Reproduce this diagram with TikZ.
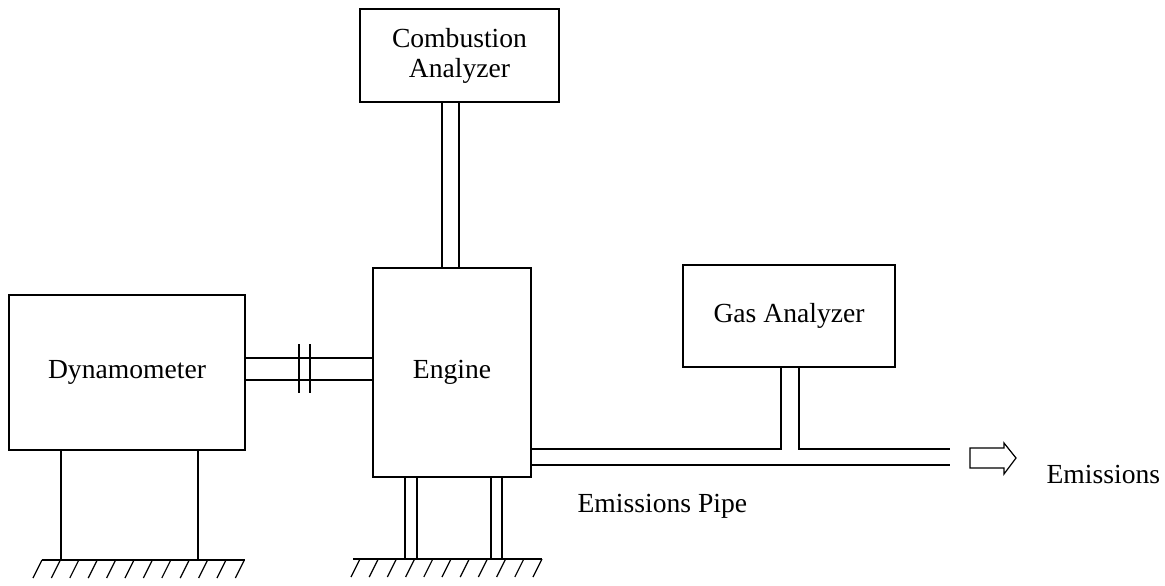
\documentclass[tikz,border=0pt]{standalone}
\usepackage{fontspec}
\setmainfont{Liberation Serif}
\begin{document}
\begin{tikzpicture}[x=0.5pt,y=-0.5pt, line width=0.6pt,
  box/.style={draw, rectangle, inner sep=0pt, font=\fontsize{13.8}{15}\selectfont, align=center},
  lbl/.style={font=\fontsize{13.8}{15}\selectfont, inner sep=0pt, anchor=base west}]
\useasboundingbox (0,0) rectangle (1165,585);
% boxes
\node[box, minimum width=118pt, minimum height=77.5pt] (dyn) at (127,372.5) {\raisebox{-1pt}{Dynamometer}};
\node[box, minimum width=79pt, minimum height=104.5pt] (eng) at (452,372.5) {Engine};
\node[box, minimum width=99.5pt, minimum height=46.5pt] (comb) at (459.5,55.5) {Combustion\\Analyzer};
\node[box, minimum width=106pt, minimum height=51pt] (gas) at (789,316) {\raisebox{2pt}{Gas Analyzer}};
% labels
\node[lbl] (pipelbl) at (577,512) {Emissions Pipe};
\node[lbl] (emlbl) at (1046,483) {Emissions};
% combustion analyzer pipe
\draw (comb.south -| 442,0) -- (eng.north -| 442,0);
\draw (comb.south -| 459,0) -- (eng.north -| 459,0);
% shaft with coupling
\draw (dyn.east |- 0,358) -- (eng.west |- 0,358);
\draw (dyn.east |- 0,380) -- (eng.west |- 0,380);
\coordinate (c1t) at (299,344); \coordinate (c1b) at (299,393);
\coordinate (c2t) at (310,344); \coordinate (c2b) at (310,393);
\draw (c1t) -- (c1b);
\draw (c2t) -- (c2b);
% emissions pipe and gas analyzer branch
\coordinate (pend1) at (950,449);
\coordinate (pend2) at (950,465);
\draw (eng.east |- 0,449) -- (781,449) -- (gas.south -| 781,0);
\draw (gas.south -| 799,0) -- (799,449) -- (pend1);
\draw (eng.east |- 0,465) -- (pend2);
% outlet arrow
\draw (970,448) -- (1004,448) -- (1004,443) -- (1016,458) -- (1004,474) -- (1004,468) -- (970,468) -- cycle;
% dynamometer legs and ground
\coordinate (dg1) at (42,560); \coordinate (dg2) at (245,560);
\draw (dyn.south -| 61,0) -- (61,560);
\draw (dyn.south -| 198,0) -- (198,560);
\draw (dg1) -- (dg2);
\foreach \k in {0,...,11} \draw ({42+18.4*\k},560) -- ++(-9,18);
% engine legs and ground
\coordinate (eg1) at (353,559); \coordinate (eg2) at (542,559);
\foreach \xx in {405,417,491,502} \draw (eng.south -| \xx,0) -- (\xx,559);
\draw (eg1) -- (eg2);
\foreach \k in {0,...,10} \draw ({360+18.2*\k},559) -- ++(-9,18);
\end{tikzpicture}
\end{document}
